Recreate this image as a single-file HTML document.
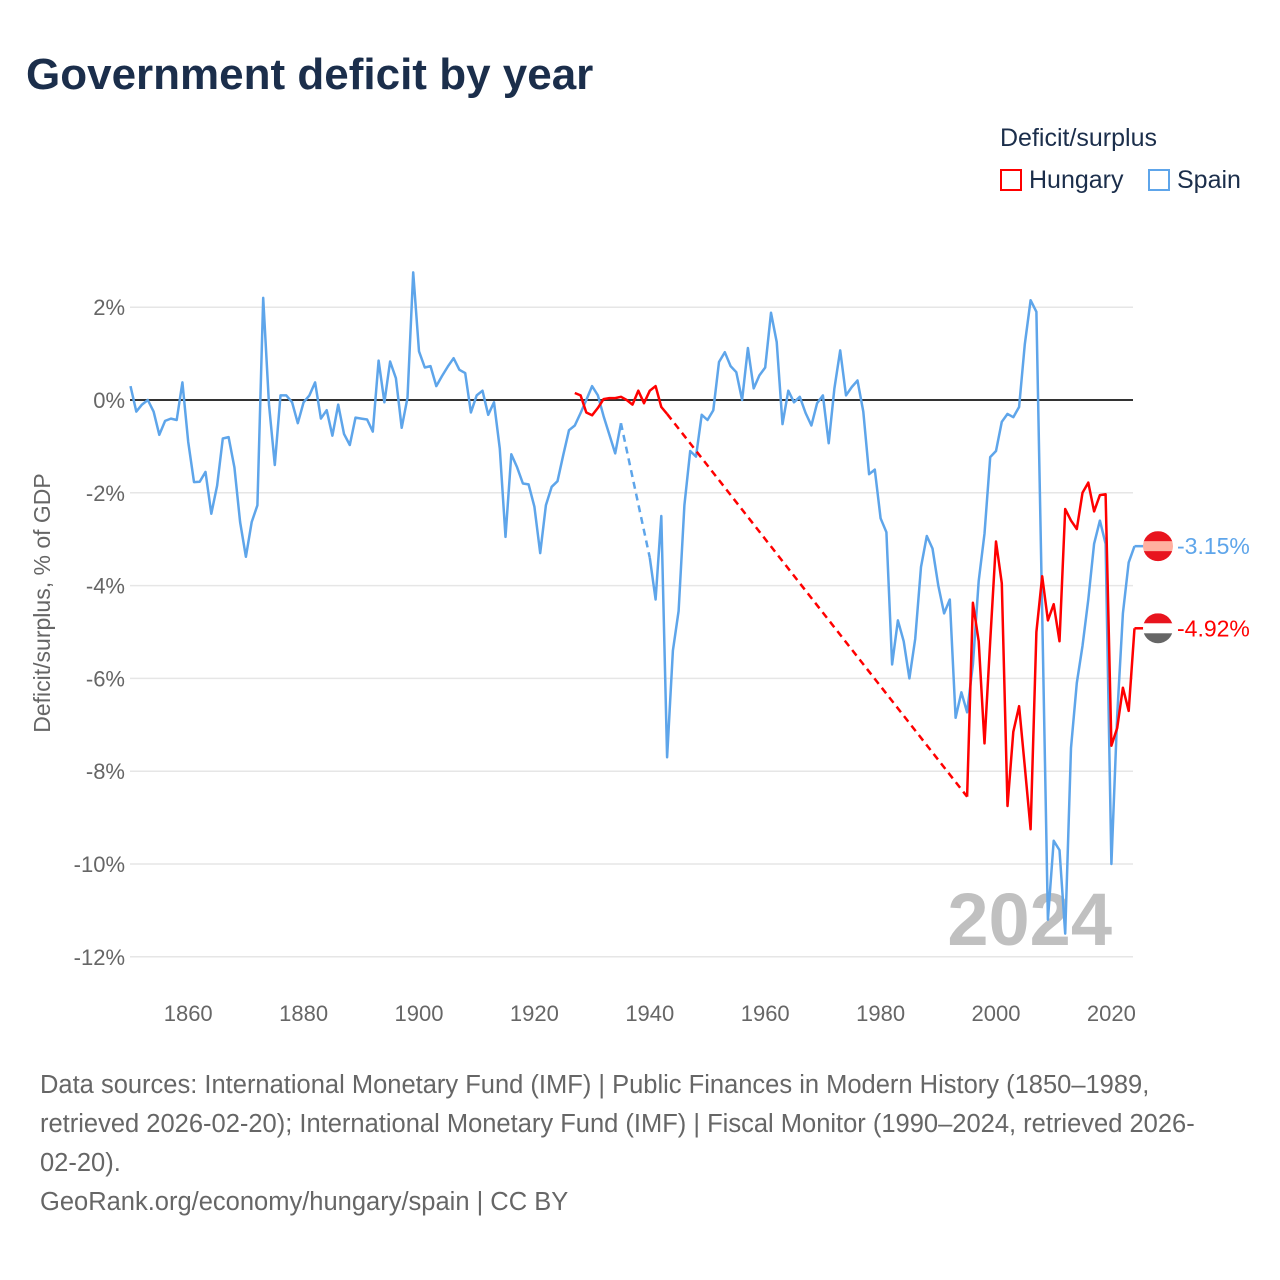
<!DOCTYPE html>
<html><head><meta charset="utf-8"><style>
body{margin:0;width:1280px;height:1280px;background:#fff;font-family:"Liberation Sans",sans-serif;overflow:hidden;position:relative}
.t{position:absolute}
</style></head><body>
<div class="t" style="left:26px;top:50px;font-size:44px;font-weight:bold;color:#1b2e4b;letter-spacing:0px">Government deficit by year</div>
<div class="t" style="left:1000px;top:124px;font-size:25px;color:#1b2e4b">Deficit/surplus</div>
<div class="t" style="left:1000px;top:166px;font-size:25px;color:#1b2e4b"><span style="display:inline-block;width:22px;height:22px;border:2px solid #f00;box-sizing:border-box;vertical-align:-3px;margin-right:7px"></span>Hungary</div>
<div class="t" style="left:1148px;top:166px;font-size:25px;color:#1b2e4b"><span style="display:inline-block;width:22px;height:22px;border:2px solid #5ea5ea;box-sizing:border-box;vertical-align:-3px;margin-right:7px"></span>Spain</div>
<svg id="chart" width="1280" height="1060" style="position:absolute;left:0;top:0"></svg>
<div class="t" style="left:40px;top:1066px;white-space:nowrap;font-size:25.5px;line-height:39px;color:#666">Data sources: International Monetary Fund (IMF) | Public Finances in Modern History (1850–1989,<br>retrieved 2026-02-20); International Monetary Fund (IMF) | Fiscal Monitor (1990–2024, retrieved 2026-<br>02-20).<br>GeoRank.org/economy/hungary/spain | CC BY</div>
<script>
const yTicks=[2,0,-2,-4,-6,-8,-10,-12];
const xTicks=[1860,1880,1900,1920,1940,1960,1980,2000,2020];
const spainA=[0.3,-0.25,-0.1,0,-0.25,-0.75,-0.45,-0.4,-0.43,0.38,-0.9,-1.77,-1.76,-1.55,-2.45,-1.85,-0.83,-0.8,-1.45,-2.63,-3.38,-2.63,-2.27,2.2,-0.1,-1.4,0.1,0.1,-0.05,-0.5,-0.05,0.1,0.38,-0.4,-0.22,-0.77,-0.1,-0.73,-0.97,-0.38,-0.4,-0.42,-0.68,0.85,-0.05,0.83,0.47,-0.6,0.05,2.75,1.05,0.7,0.73,0.3,0.52,0.72,0.9,0.65,0.58,-0.27,0.1,0.2,-0.32,-0.05,-1.05,-2.95,-1.17,-1.45,-1.8,-1.82,-2.3,-3.3,-2.27,-1.87,-1.75,-1.18,-0.65,-0.55,-0.28,0,0.3,0.1,-0.35,-0.75,-1.15,-0.5];
const spainAStart=1850;
const spainB=[-3.4,-4.3,-2.5,-7.7,-5.4,-4.55,-2.27,-1.1,-1.22,-0.32,-0.43,-0.22,0.82,1.03,0.73,0.6,0,1.12,0.25,0.53,0.7,1.88,1.25,-0.52,0.2,-0.05,0.07,-0.28,-0.55,-0.07,0.1,-0.93,0.25,1.07,0.1,0.28,0.42,-0.25,-1.6,-1.5,-2.55,-2.85,-5.7,-4.75,-5.2,-6.0,-5.15,-3.6,-2.93,-3.2,-4.0,-4.6,-4.3,-6.85,-6.3,-6.73,-5.7,-3.9,-2.88,-1.23,-1.1,-0.47,-0.3,-0.37,-0.15,1.2,2.15,1.9,-4.6,-11.2,-9.5,-9.7,-11.5,-7.5,-6.1,-5.3,-4.3,-3.1,-2.6,-3.1,-10.0,-6.8,-4.6,-3.5,-3.15];
const spainBStart=1940;
const hunA=[0.15,0.1,-0.27,-0.33,-0.17,0.02,0.04,0.04,0.07,0,-0.1,0.2,-0.07,0.2,0.3,-0.15,-0.3];
const hunAStart=1927;
const hunB=[-8.55,-4.37,-5.2,-7.4,-5.2,-3.05,-3.95,-8.75,-7.15,-6.6,-7.9,-9.25,-5.0,-3.8,-4.75,-4.4,-5.2,-2.35,-2.6,-2.78,-2.0,-1.78,-2.4,-2.05,-2.03,-7.45,-7.07,-6.2,-6.7,-4.92];
const hunBStart=1995;
const X=yr=>130.5+(yr-1850)*5.77, Y=v=>400-v*46.4;
const svg=document.getElementById('chart'),NS='http://www.w3.org/2000/svg';
function el(t,a,txt){const e=document.createElementNS(NS,t);for(const k in a)e.setAttribute(k,a[k]);if(txt!=null)e.textContent=txt;svg.appendChild(e);return e;}
yTicks.forEach(v=>{
 const g=el('line',{x1:130,x2:1133,y1:Y(v),y2:Y(v),stroke:'#e6e6e6','stroke-width':1.5});
 
 
 const t=el('text',{x:125,y:Y(v)+8,'text-anchor':'end','font-size':22,fill:'#666'},v+'%');
 
 
});
xTicks.forEach(v=>{
 const t=el('text',{x:X(v),y:1021,'text-anchor':'middle','font-size':22,fill:'#666'},String(v));
 
 
});
const zl=el('line',{x1:130,x2:1133,y1:Y(0),y2:Y(0),stroke:'#333','stroke-width':2});


const yt=el('text',{transform:'translate(50,603) rotate(-90)','text-anchor':'middle','font-size':23,fill:'#666'},'Deficit/surplus, % of GDP');


const wm=el('text',{x:1112,y:945,'text-anchor':'end','font-size':74,'font-weight':'bold',fill:'#c0c0c0'},'2024');


function pts(arr,start){return arr.map((v,i)=>X(start+i).toFixed(1)+','+Y(v).toFixed(1)).join(' ');}
function line(p,col,dash,name){const l=el('polyline',{points:p,fill:'none',stroke:col,'stroke-width':2.5,'stroke-linejoin':'round'});if(dash)l.setAttribute('stroke-dasharray','7 5');
 
 }
line(pts(spainA,spainAStart),'#5ea5ea',false,'spain-line-early');
line(X(spainAStart+spainA.length-1)+','+Y(spainA[spainA.length-1])+' '+X(spainBStart)+','+Y(spainB[0]),'#5ea5ea',true,'spain-gap-line');
line(pts(spainB,spainBStart),'#5ea5ea',false,'spain-line-late');
line(pts(hunA,hunAStart),'#f00',false,'hungary-line-early');
line(X(hunAStart+hunA.length-1)+','+Y(hunA[hunA.length-1])+' '+X(hunBStart)+','+Y(hunB[0]),'#f00',true,'hungary-gap-line');
line(pts(hunB,hunBStart),'#f00',false,'hungary-line-late');
const sl=spainB[spainB.length-1],hl=hunB[hunB.length-1],xe=X(2024);
line(xe+','+Y(sl)+' '+(xe+12)+','+Y(sl),'#5ea5ea',false,'spain-label-connector');
line(xe+','+Y(hl)+' '+(xe+12)+','+Y(hl),'#f00',false,'hungary-label-connector');
function flag(cy,cols,name){const g=document.createElementNS(NS,'g');svg.appendChild(g);
 
 
 const cp=el('clipPath',{id:name+'c'});const c=document.createElementNS(NS,'circle');c.setAttribute('cx',1158);c.setAttribute('cy',cy);c.setAttribute('r',15);cp.appendChild(c);
 const n=cols.length;cols.forEach((col,i)=>{el('rect',{x:1143,y:cy-15+30*i/n,width:30,height:30/n+0.5,fill:col,'clip-path':'url(#'+name+'c)'});});}
flag(Y(sl),['#e8141e','#ffb0a0','#e8141e'],'spain-flag');
flag(Y(hl),['#e8141e','#ffffff','#666666'],'hungary-flag');
const sv=el('text',{x:1177,y:Y(sl)+8,'font-size':23,fill:'#5ea5ea'},sl.toFixed(2)+'%');


const hv=el('text',{x:1177,y:Y(hl)+8,'font-size':23,fill:'#f00'},hl.toFixed(2)+'%');


</script>
</body></html>
